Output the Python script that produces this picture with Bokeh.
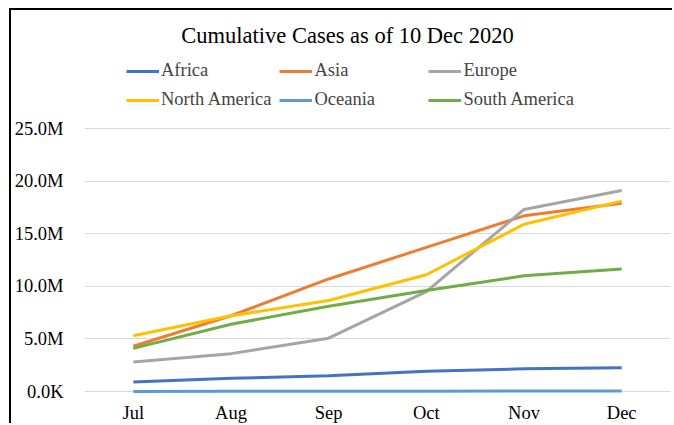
from bokeh.plotting import figure
from bokeh.models import (Range1d, FactorRange, Legend, LegendItem, Label,
                          CustomJSTickFormatter, FixedTicker)
from bokeh.embed import file_html
from bokeh.resources import INLINE

months = ["Jul", "Aug", "Sep", "Oct", "Nov", "Dec"]
africa = [0.90e6, 1.25e6, 1.50e6, 1.93e6, 2.16e6, 2.25e6]
asia = [4.30e6, 7.20e6, 10.70e6, 13.70e6, 16.70e6, 17.90e6]
europe = [2.80e6, 3.60e6, 5.07e6, 9.50e6, 17.30e6, 19.10e6]
north_america = [5.30e6, 7.20e6, 8.65e6, 11.10e6, 15.90e6, 18.10e6]
oceania = [0.01e6, 0.02e6, 0.03e6, 0.035e6, 0.04e6, 0.045e6]
south_america = [4.10e6, 6.40e6, 8.10e6, 9.60e6, 11.00e6, 11.65e6]

series = [
    ("Africa", africa, "#4472C4"),
    ("Asia", asia, "#ED7D31"),
    ("Europe", europe, "#A5A5A5"),
    ("North America", north_america, "#FFC000"),
    ("Oceania", oceania, "#5B9BD5"),
    ("South America", south_america, "#70AD47"),
]
y_ticks = [0, 5e6, 10e6, 15e6, 20e6, 25e6]
title_text = "Cumulative Cases as of 10 Dec 2020"

FONT = "Liberation Serif"

# canvas inside a 2px black top/left border (page offset 11, 10)
p = figure(width=663, height=415, x_range=FactorRange(*months),
           y_range=Range1d(-0.475e6, 36.22e6), output_backend="svg",
           toolbar_location=None,
           min_border_left=73, min_border_right=4, min_border_top=0,
           min_border_bottom=29)
p.margin = (8, 0, 0, 9)
p.styles = {"border-top": "2px solid #000000", "border-left": "2px solid #000000"}
p.outline_line_color = None
p.background_fill_color = "white"
p.border_fill_color = "white"

p.xgrid.grid_line_color = None
p.ygrid.grid_line_color = "#D9D9D9"
p.ygrid.grid_line_width = 1

p.yaxis.ticker = FixedTicker(ticks=y_ticks)
p.yaxis.formatter = CustomJSTickFormatter(
    code="return (tick/1e6).toFixed(1) + (tick == 0 ? 'K' : 'M');")
for ax in (p.xaxis[0], p.yaxis[0]):
    ax.axis_line_color = None
    ax.major_tick_line_color = None
    ax.minor_tick_line_color = None
    ax.major_label_text_font = FONT
    ax.major_label_text_font_size = "18.5px"
    ax.major_label_text_color = "#000000"
p.yaxis.major_label_standoff = 15
p.xaxis.major_label_standoff = 0

renderers = {}
for name, vals, color in series:
    renderers[name] = p.line(months, vals, line_color=color, line_width=3)

# legend is filled column by column: order items so rows read left to right
legend_order = ["Africa", "North America", "Asia", "Oceania", "Europe", "South America"]
items = [LegendItem(label=n, renderers=[renderers[n]]) for n in legend_order]

legend = Legend(items=items, ncols=3, location=(42, 286), padding=0, margin=0,
                border_line_color=None, background_fill_alpha=0,
                label_text_font=FONT, label_text_font_size="18.5px",
                glyph_width=33, glyph_height=20, label_height=20, label_width=106,
                label_standoff=2, spacing=8)
p.add_layout(legend, "center")

title = Label(x=263, y=361, x_units="screen", y_units="screen",
              text=title_text, text_font=FONT,
              text_font_size="22.5px", text_align="center", text_baseline="middle",
              text_color="#000000")
p.add_layout(title)

open("out.html", "w").write(file_html(p, INLINE))
